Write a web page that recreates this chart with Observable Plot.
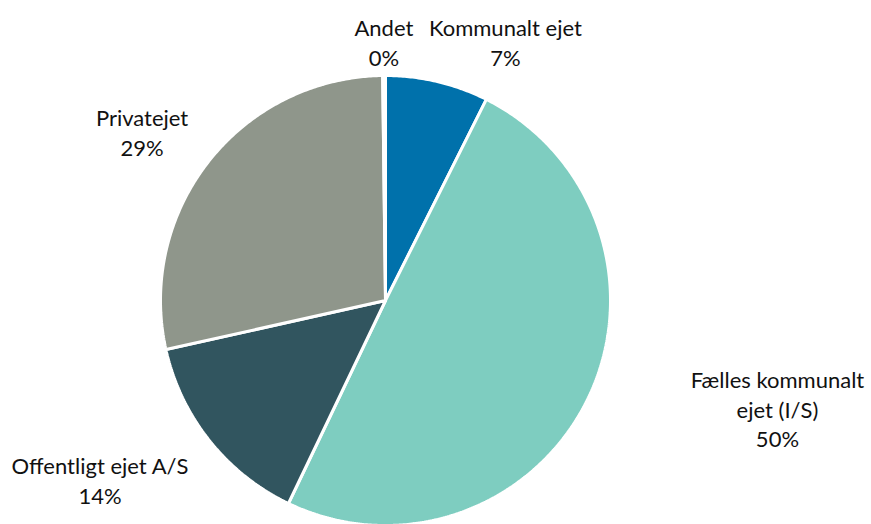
<!DOCTYPE html>
<html>
<head>
<meta charset="utf-8">
<script src="https://cdn.jsdelivr.net/npm/d3@7"></script>
<script src="https://cdn.jsdelivr.net/npm/@observablehq/plot@0.6"></script>
<style>
  html, body { margin: 0; padding: 0; background: #ffffff; }
  #chart { width: 871px; height: 524px; overflow: hidden; }
</style>
</head>
<body>
<div id="chart"></div>
<script>
// ---- data ----
const categories = ["Kommunalt ejet", "Fælles kommunalt ejet (I/S)", "Offentligt ejet A/S", "Privatejet", "Andet"];
const shares = [7.4, 49.7, 14.4, 28.3, 0.2];
const percentLabels = ["7%", "50%", "14%", "29%", "0%"];
const nameLines = [["Kommunalt ejet"], ["Fælles kommunalt", "ejet (I/S)"], ["Offentligt ejet A/S"], ["Privatejet"], ["Andet"]];
const sliceColors = ["#0071ab", "#7ecdc0", "#31555f", "#8f968b", "#c9ccc6"];

// ---- layout (positions in pie-radius units, label baselines) ----
const W = 871, H = 524, CX = 385, CY = 300, R = 225;
const labelAt = [
  [0.533, 1.196],   // Kommunalt ejet
  [1.742, -0.369],  // Fælles kommunalt ejet
  [-1.269, -0.751], // Offentligt ejet A/S
  [-1.082, 0.796],  // Privatejet
  [-0.007, 1.196]   // Andet
];
const fontSize = 22;
const lineH = 29.5;

// ---- geometry from data ----
const arcs = d3.pie().sort(null).value(d => d)(shares);
const pts = [];
arcs.forEach((a, i) => {
  const name = categories[i];
  pts.push({name, x: 0, y: 0});
  const n = Math.max(2, Math.ceil((a.endAngle - a.startAngle) / (Math.PI / 360)));
  for (let k = 0; k <= n; k++) {
    const t = a.startAngle + (a.endAngle - a.startAngle) * k / n;
    pts.push({name, x: Math.sin(t), y: Math.cos(t)});
  }
  pts.push({name, x: 0, y: 0});
});

const labels = categories.map((c, i) => ({
  name: c,
  x: labelAt[i][0],
  y: labelAt[i][1],
  text: [...nameLines[i], percentLabels[i]].join("\n")
}));

const chart = Plot.plot({
  width: W,
  height: H,
  margin: 0,
  style: {fontFamily: "Lato, 'Open Sans', sans-serif", background: "#ffffff"},
  x: {type: "linear", domain: [-CX / R, (W - CX) / R], range: [0, W], axis: null},
  y: {type: "linear", domain: [-(H - CY) / R, CY / R], range: [H, 0], axis: null},
  color: {domain: categories, range: sliceColors},
  marks: [
    Plot.line(pts, {
      x: "x", y: "y", z: "name", fill: "name",
      stroke: "white", strokeWidth: 3, strokeLinejoin: "miter", curve: "linear"
    }),
    Plot.text(labels, {
      x: "x", y: "y", text: "text",
      textAnchor: "middle", lineAnchor: "top",
      lineHeight: lineH / fontSize,
      dy: -Math.round(0.71 * fontSize),
      fontSize: fontSize, fill: "#111111"
    })
  ]
});
document.getElementById("chart").appendChild(chart);
</script>
</body>
</html>
